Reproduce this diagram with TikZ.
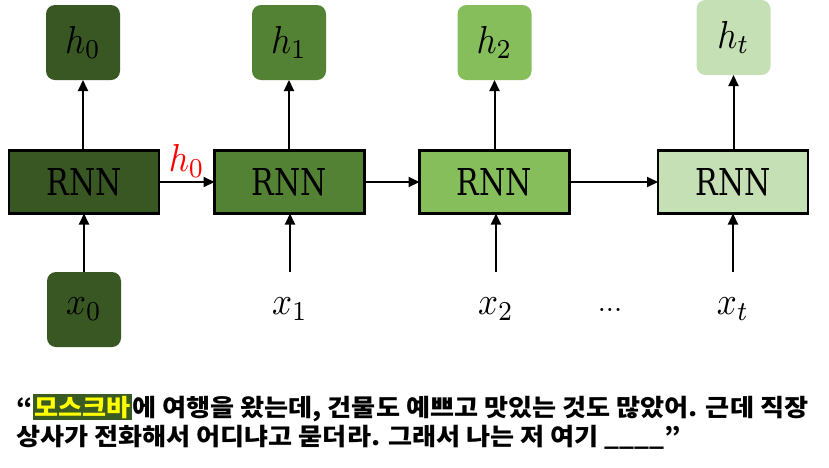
\documentclass[tikz,border=0pt]{standalone}
\usepackage{fontspec}
\usepackage{graphicx}
\usetikzlibrary{arrows.meta}
\newfontfamily\krfont{Noto Sans CJK KR}
\newfontfamily\slabfont{DejaVu Serif}
\definecolor{gA}{HTML}{385723}
\definecolor{gB}{HTML}{548235}
\definecolor{gC}{HTML}{86BE5B}
\definecolor{gD}{HTML}{C5E0B4}
\definecolor{hlgreen}{HTML}{3A5A24}
\definecolor{hlyellow}{HTML}{FFFF00}
\newcommand\hlword[1]{{\setlength\fboxsep{1.5pt}\colorbox{hlgreen}{\color{hlyellow}#1}}}
\newcommand\rnnlabel{\resizebox{75pt}{27pt}{\slabfont RNN}}
\newcommand\bigmath[1]{\scalebox{3.5}[3.9]{$#1$}}
\begin{document}
\begin{tikzpicture}[x=1pt,y=-1pt,
  rnnbox/.style={draw=black, line width=2.2pt, minimum width=150pt, minimum height=63pt, inner sep=0pt, outer sep=0pt},
  hbox/.style={rounded corners=9pt, minimum width=74pt, minimum height=75pt, inner sep=0pt, outer sep=0pt},
  xlab/.style={minimum width=74pt, minimum height=75pt, inner sep=0pt, outer sep=0pt},
  arr/.style={line width=2pt, -{Triangle[length=11pt,width=10pt]}},
  kr/.style={anchor=base west, inner sep=0pt, font=\krfont\bfseries\fontsize{24}{28}\selectfont}]
\useasboundingbox (0,0) rectangle (829,467);
% RNN boxes
\node[rnnbox, fill=gA] (r1) at (84,182) {\rnnlabel};
\node[rnnbox, fill=gB] (r2) at (289.5,182) {\rnnlabel};
\node[rnnbox, fill=gC] (r3) at (494.5,182) {\rnnlabel};
\node[rnnbox, fill=gD] (r4) at (733,182) {\rnnlabel};
% outputs
\node[hbox, fill=gA] (h0) at (83,42.5) {\bigmath{h_0}};
\node[hbox, fill=gB] (h1) at (289,42.5) {\bigmath{h_1}};
\node[hbox, fill=gC] (h2) at (494.5,42.5) {\bigmath{h_2}};
\node[hbox, fill=gD] (ht) at (733.5,37.5) {\bigmath{h_t}};
% inputs
\node[xlab, rounded corners=9pt, fill=gA] (x0) at (84,309.5) {\bigmath{x_0}};
\node[xlab] (x1) at (290,309.5) {\bigmath{x_1}};
\node[xlab] (x2) at (496,309.5) {\bigmath{x_2}};
\node[xlab] (xt) at (733,309.5) {\bigmath{x_t}};
\node[inner sep=0pt] (dots) at (610,310) {\scalebox{2.9}{...}};
% arrows up
\draw[arr] (r1.north -| h0) -- (h0.south);
\draw[arr] (r2.north -| h1) -- (h1.south);
\draw[arr] (r3.north -| h2) -- (h2.south);
\draw[arr] (r4.north -| ht) -- (ht.south);
\draw[arr] (x0.north) -- (r1.south -| x0);
\draw[arr] (x1.north) -- (r2.south -| x1);
\draw[arr] (x2.north) -- (r3.south -| x2);
\draw[arr] (xt.north) -- (r4.south -| xt);
% horizontal
\draw[arr] (r1.east) -- (r2.west) node[midway, above=4pt, text=red, inner sep=0pt] (hlab) {\bigmath{h_0}};
\draw[arr] (r2.east) -- (r3.west);
\draw[arr] (r3.east) -- (r4.west);
% sentence
\node[kr] (line1) at (16,416) {\scalebox{1.09}[1]{“\hlword{모스크바}에 여행을 왔는데, 건물도 예쁘고 맛있는 것도 많았어. 근데 직장}};
\node[kr] (line2) at (16,445) {\scalebox{1.09}[1]{상사가 전화해서 어디냐고 묻더라. 그래서 나는 저 여기 \_\_\_\_”}};
\end{tikzpicture}
\end{document}
